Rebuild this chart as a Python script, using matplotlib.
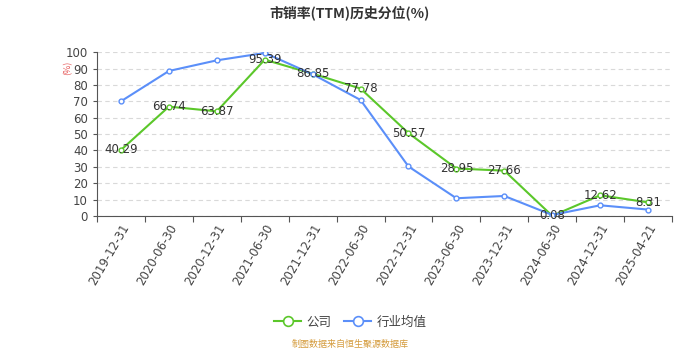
import numpy as np
import matplotlib
matplotlib.use('Agg')
import matplotlib.pyplot as plt

plt.rcParams['font.family'] = ['Noto Sans CJK SC', 'DejaVu Sans']

dates = ['2019-12-31', '2020-06-30', '2020-12-31', '2021-06-30', '2021-12-31', '2022-06-30',
         '2022-12-31', '2023-06-30', '2023-12-31', '2024-06-30', '2024-12-31', '2025-04-21']
company = [40.29, 66.74, 63.87, 95.39, 86.85, 77.78, 50.57, 28.95, 27.66, 0.08, 12.62, 8.31]
industry = [70.0, 88.5, 95.0, 99.5, 86.5, 70.8, 30.2, 10.8, 12.2, 0.6, 6.5, 3.9]

green = '#5bc72a'
blue = '#5b8ff9'

fig = plt.figure(figsize=(7, 3.5), dpi=100)
ax = fig.add_axes([0.1386, 0.383, 0.8214, 0.468])

x = np.arange(len(dates))
ax.plot(x, company, color=green, lw=1.5, marker='o', ms=3.5, mfc='white', mec=green, mew=1, zorder=3)
ax.plot(x, industry, color=blue, lw=1.5, marker='o', ms=3.5, mfc='white', mec=blue, mew=1, zorder=3)

for xi, v in zip(x, company):
    ax.text(xi, v, '%.2f' % v, ha='center', va='center', fontsize=8.5, color='#333333', zorder=4,
            family='DejaVu Sans')

ax.set_xlim(-0.5, len(dates) - 0.5)
ax.set_ylim(0, 100)
ax.set_yticks(np.arange(0, 101, 10))
ax.set_xticks(np.arange(-0.5, len(dates), 1), minor=False)
ax.set_xticklabels([])
ax.set_xticks(x, minor=True)
ax.set_xticklabels(dates, minor=True, rotation=60, ha='right', rotation_mode='anchor',
                   fontsize=8.5, color='#444444', family='DejaVu Sans')
ax.tick_params(axis='x', which='minor', length=0, pad=4)
ax.tick_params(axis='x', which='major', length=4, color='#555555')
ax.tick_params(axis='y', length=3, color='#555555', labelsize=8.5, labelcolor='#444444')
for lab in ax.get_yticklabels():
    lab.set_family('DejaVu Sans')

ax.grid(axis='y', ls=(0, (4, 3)), color='#d9d9d9', lw=0.8)
ax.set_axisbelow(True)
for s in ['top', 'right']:
    ax.spines[s].set_visible(False)
ax.spines['left'].set_color('#555555')
ax.spines['bottom'].set_color('#555555')

fig.text(0.097, 0.805, '(%)', rotation=90, color='#e55555', fontsize=6.5, ha='center', va='center')
fig.text(0.5, 0.965, '市销率(TTM)历史分位(%)', ha='center', va='center', fontsize=10,
         fontweight='bold', color='#333333')

h1, = ax.plot([], [], color=green, lw=1.5, marker='o', ms=7, mfc='white', mec=green, mew=1.2)
h2, = ax.plot([], [], color=blue, lw=1.5, marker='o', ms=7, mfc='white', mec=blue, mew=1.2)
fig.legend([h1, h2], ['公司', '行业均值'], loc='center', bbox_to_anchor=(0.5, 0.08), ncol=2,
           frameon=False, fontsize=9, handlelength=2.2, columnspacing=1.0, handletextpad=0.4,
           labelcolor='#444444')
fig.text(0.5, 0.015, '制图数据来自恒生聚源数据库', ha='center', va='center', fontsize=6.5, color='#d49a3a')

fig.savefig('out.png', dpi=100)
